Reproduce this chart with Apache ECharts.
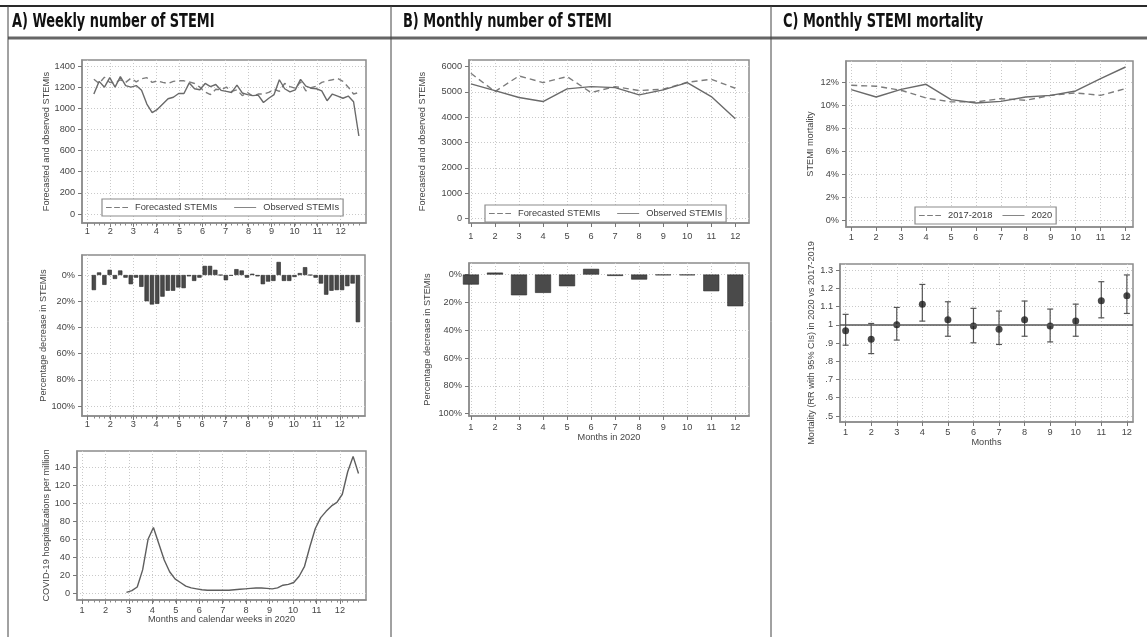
<!DOCTYPE html>
<html>
<head>
<meta charset="utf-8">
<script src="https://cdn.jsdelivr.net/npm/echarts@6/dist/echarts.min.js"></script>
<style>
html, body { margin: 0; padding: 0; background: #fff; }
#main { width: 1147px; height: 637px; }
</style>
</head>
<body>
<div id="main"></div>
<script>
// ---- data ----
var months = [1, 2, 3, 4, 5, 6, 7, 8, 9, 10, 11, 12];

// weekly series, week i sits at month WEEK_START + i * WEEK_STEP
var WEEK_START = 1.285, WEEK_STEP = 0.2301;
var weeklyForecast = [1275, 1235, 1295, 1245, 1240, 1270, 1245, 1285, 1250, 1280,
    1290, 1245, 1260, 1245, 1235, 1255, 1260, 1260, 1250, 1235,
    1200, 1155, 1130, 1180, 1175, 1200, 1160, 1175, 1120, 1150,
    1115, 1135, 1135, 1150, 1180, 1160, 1235, 1205, 1190, 1250,
    1165, 1195, 1210, 1245, 1260, 1270, 1283, 1255, 1200, 1135,
    1150];
var weeklyObserved = [1135, 1255, 1200, 1290, 1200, 1300, 1215, 1200, 1215, 1170,
    1040, 960, 990, 1040, 1090, 1105, 1140, 1140, 1240, 1185,
    1175, 1235, 1205, 1225, 1170, 1160, 1150, 1220, 1145, 1130,
    1120, 1125, 1055, 1095, 1130, 1270, 1185, 1155, 1175, 1274,
    1210, 1190, 1185, 1165, 1072, 1135, 1116, 1095, 1116, 1062,
    738];
var weeklyDecrease = [11.5, -2, 7.5, -4, 3, -3.5, 2, 7, 2, 9,
    20, 22.5, 22, 16.5, 12, 12, 9.5, 10, 1, 4.5,
    2, -7, -7, -4, 0, 4, 0.5, -4.5, -3.5, 2,
    -1, 1, 7, 5, 4.5, -10, 4.5, 4.5, 1.5, -1.5,
    -6, 0, 2, 6.5, 15, 12, 11.5, 11.5, 8.5, 6.5,
    36];
var covidHosp = [null, null, null, null, null, null, null,
    1, 3, 7, 26, 60, 73, 55, 37, 24, 16,
    12, 8, 6, 5, 4, 3.5, 3.5, 3.5, 3.5, 3.5,
    4, 4.5, 5, 5.5, 6, 6, 5.5, 5, 6, 9,
    10, 12, 19, 30, 52, 72, 84, 91, 97, 101,
    110, 135, 152, 133];

var monthlyForecast = [5737, 5015, 5632, 5370, 5606, 4976, 5212, 5055, 5107, 5383, 5501, 5146];
var monthlyObserved = [5317, 5055, 4779, 4621, 5120, 5212, 5173, 4884, 5081, 5370, 4818, 3939];
var monthlyDecrease = [7.2, -1.4, 14.9, 13.2, 8.4, -4.1, 1, 3.6, 0.5, 0.5, 12, 22.8];

var mort1718 = [11.71, 11.63, 11.28, 10.61, 10.27, 10.27, 10.56, 10.41, 10.84, 11.05, 10.84, 11.42];
var mort2020 = [11.34, 10.70, 11.36, 11.80, 10.47, 10.18, 10.32, 10.70, 10.84, 11.22, 12.29, 13.30];

var rrEst  = [0.967, 0.921, 1.000, 1.113, 1.027, 0.993, 0.976, 1.027, 0.993, 1.020, 1.132, 1.159];
var rrLow  = [0.888, 0.842, 0.916, 1.020, 0.937, 0.901, 0.892, 0.937, 0.906, 0.937, 1.038, 1.062];
var rrHigh = [1.057, 1.007, 1.095, 1.221, 1.126, 1.090, 1.075, 1.130, 1.086, 1.113, 1.236, 1.273];

// tick labels
var weeklyTicks = [0, 200, 400, 600, 800, 1000, 1200, 1400];
var pctTicks = [0, 20, 40, 60, 80, 100];
var covidTicks = [0, 20, 40, 60, 80, 100, 120, 140];
var monthlyTicks = [0, 1000, 2000, 3000, 4000, 5000, 6000];
var mortTicks = [0, 2, 4, 6, 8, 10, 12];
var rrTicks = [0.5, 0.6, 0.7, 0.8, 0.9, 1, 1.1, 1.2, 1.3];

// ---- chart ----
var weekX = weeklyObserved.map(function (v, i) { return WEEK_START + i * WEEK_STEP; });
function pairs(xs, ys) { return ys.map(function (v, i) { return [xs[i], v]; }); }

var FONT = '"Liberation Sans", Arial, sans-serif';
var HEAD_FONT = '"DejaVu Sans Condensed", "Liberation Sans Narrow", sans-serif';
var TXT = '#454545';
var FRAME = '#8c8c8c';
var splitStyle = { show: true, lineStyle: { color: '#c9c9c9', width: 1, type: [1, 2] } };
var nameStyle = { color: TXT, fontSize: 9.2, fontFamily: FONT };
var DASH_ICON = 'path://M0,0h7v1h-7z M10,0h7v1h-7z M20,0h7v1h-7z';
var LINE_ICON = 'path://M0,0h27v1h-27z';

function makeGrid(l, t, w, h) {
    return { left: l, top: t, width: w, height: h, show: true, backgroundColor: '#fff',
        borderColor: FRAME, borderWidth: 1.5, containLabel: false, outerBoundsMode: 'none' };
}
function monthAxis(gi, min, max, margin, name, gap) {
    return { type: 'value', gridIndex: gi, min: min, max: max, position: 'bottom',
        axisLine: { show: true, onZero: false, lineStyle: { color: FRAME, width: 1.5 } },
        axisTick: { show: true, length: 4, customValues: months, lineStyle: { color: '#777' } },
        axisLabel: { customValues: months, color: TXT, fontSize: 9.2, fontFamily: FONT, margin: margin },
        splitLine: splitStyle,
        name: name || '', nameLocation: 'middle', nameGap: gap || 0, nameTextStyle: nameStyle };
}
function weekAxis(gi, min, max) {
    return { type: 'value', gridIndex: gi, min: min, max: max, position: 'bottom',
        axisLine: { show: false, onZero: false },
        axisTick: { show: true, length: 2.5, customValues: weekX, lineStyle: { color: '#888' } },
        axisLabel: { show: false }, splitLine: { show: false } };
}
function valAxis(gi, min, max, ticks, fmt, name, gap, inverse) {
    return { type: 'value', gridIndex: gi, min: min, max: max, inverse: !!inverse, position: 'left',
        axisLine: { show: true, onZero: false, lineStyle: { color: FRAME, width: 1.5 } },
        axisTick: { show: true, length: 4, customValues: ticks, lineStyle: { color: '#777' } },
        axisLabel: { customValues: ticks, formatter: fmt, color: TXT, fontSize: 9.2, fontFamily: FONT, margin: 7 },
        splitLine: splitStyle,
        name: name, nameLocation: 'middle', nameGap: gap, nameRotate: 90, nameTextStyle: nameStyle };
}
function plain(v) { return String(v); }
function pct(v) { return v + '%'; }
function rrFmt(v) { return v < 1 ? '.' + Math.round(v * 10) : (v === 1 ? '1' : v.toFixed(1)); }

var dashed = { color: '#7c7c7c', width: 1.4, type: [6, 4] };
var solid = { color: '#6a6a6a', width: 1.4, type: 'solid' };
var barStyle = { color: '#4a4a4a', borderColor: '#262626', borderWidth: 0.6 };

function legendBox(names, left, top, gap) {
    return { data: [{ name: names[0], icon: DASH_ICON }, { name: names[1], icon: LINE_ICON }],
        left: left, top: top, orient: 'horizontal', itemWidth: 22, itemHeight: 1.4, itemGap: gap,
        padding: [4, 4], borderColor: '#8c8c8c', borderWidth: 1.2, backgroundColor: '#fff', selectedMode: false,
        textStyle: { color: '#3c3c3c', fontSize: 9.3, fontFamily: FONT, padding: [0, 0, 0, 2] } };
}
function header(x, text) {
    return { type: 'text', x: x, y: 22, scaleX: 0.72, style: { text: text, fill: '#111', fontSize: 20,
        fontWeight: 'bold', fontFamily: HEAD_FONT, verticalAlign: 'middle' } };
}

var chart = echarts.init(document.getElementById('main'));
chart.setOption({
    animation: false,
    backgroundColor: '#fff',
    grid: [
        makeGrid(82, 60, 284, 163),
        makeGrid(82, 255, 283, 161),
        makeGrid(77, 451, 289, 149),
        makeGrid(469, 60, 280, 163),
        makeGrid(469, 263, 280, 153),
        makeGrid(846, 61, 287, 166),
        makeGrid(840, 264, 293, 158)
    ],
    xAxis: [
        monthAxis(0, 0.77, 13.1, 4),
        weekAxis(0, 0.77, 13.1),
        monthAxis(1, 0.77, 13.1, 4),
        weekAxis(1, 0.77, 13.1),
        monthAxis(2, 0.787, 13.11, 5.5, 'Months and calendar weeks in 2020', 14.5),
        weekAxis(2, 0.787, 13.11),
        monthAxis(3, 0.92, 12.57, 9),
        monthAxis(4, 0.92, 12.57, 6.5, 'Months in 2020', 17),
        monthAxis(5, 0.79, 12.3, 6),
        monthAxis(6, 0.78, 12.24, 6, 'Months', 15.5)
    ],
    yAxis: [
        valAxis(0, -85, 1457, weeklyTicks, plain, 'Forecasted and observed STEMIs', 29),
        valAxis(1, -15.3, 107.6, pctTicks, pct, 'Percentage decrease in STEMIs', 29, true),
        valAxis(2, -7.4, 158, covidTicks, plain, 'COVID-19 hospitalizations per million', 25),
        valAxis(3, -180, 6263, monthlyTicks, plain, 'Forecasted and observed STEMIs', 42),
        valAxis(4, -8.3, 101.7, pctTicks, pct, 'Percentage decrease in STEMIs', 37, true),
        valAxis(5, -0.58, 13.82, mortTicks, pct, 'STEMI mortality', 31),
        valAxis(6, 0.467, 1.333, rrTicks, rrFmt, 'Mortality (RR with 95% CIs) in 2020 vs 2017-2019', 23.5)
    ],
    legend: [
        legendBox(['Forecasted STEMIs', 'Observed STEMIs'], 102, 199, 17),
        legendBox(['Forecasted STEMIs', 'Observed STEMIs'], 485, 205, 17),
        legendBox(['2017-2018', '2020'], 915, 207, 10)
    ],
    series: [
        // A) weekly
        { type: 'line', name: 'Forecasted STEMIs', xAxisIndex: 0, yAxisIndex: 0, data: pairs(weekX, weeklyForecast),
            symbol: 'none', lineStyle: dashed, itemStyle: { color: dashed.color }, z: 3 },
        { type: 'line', name: 'Observed STEMIs', xAxisIndex: 0, yAxisIndex: 0, data: pairs(weekX, weeklyObserved),
            symbol: 'none', lineStyle: solid, itemStyle: { color: solid.color }, z: 3 },
        { type: 'bar', xAxisIndex: 2, yAxisIndex: 1, data: pairs(weekX, weeklyDecrease),
            barWidth: 4.3, itemStyle: barStyle },
        { type: 'line', xAxisIndex: 4, yAxisIndex: 2, data: pairs(weekX, covidHosp), connectNulls: false,
            symbol: 'none', lineStyle: { color: '#5e5e5e', width: 1.4 } },
        // B) monthly
        { type: 'line', name: 'Forecasted STEMIs', xAxisIndex: 6, yAxisIndex: 3, data: pairs(months, monthlyForecast),
            symbol: 'none', lineStyle: dashed, itemStyle: { color: dashed.color }, z: 3 },
        { type: 'line', name: 'Observed STEMIs', xAxisIndex: 6, yAxisIndex: 3, data: pairs(months, monthlyObserved),
            symbol: 'none', lineStyle: solid, itemStyle: { color: solid.color }, z: 3 },
        { type: 'bar', xAxisIndex: 7, yAxisIndex: 4, data: pairs(months, monthlyDecrease),
            barWidth: 16, itemStyle: barStyle },
        // C) mortality
        { type: 'line', name: '2017-2018', xAxisIndex: 8, yAxisIndex: 5, data: pairs(months, mort1718),
            symbol: 'none', lineStyle: dashed, itemStyle: { color: dashed.color }, z: 3 },
        { type: 'line', name: '2020', xAxisIndex: 8, yAxisIndex: 5, data: pairs(months, mort2020),
            symbol: 'none', lineStyle: solid, itemStyle: { color: solid.color }, z: 3 },
        { type: 'custom', xAxisIndex: 9, yAxisIndex: 6, z: 2,
            data: months.map(function (m, i) { return [m, rrLow[i], rrHigh[i]]; }),
            renderItem: function (params, api) {
                var lo = api.coord([api.value(0), api.value(1)]);
                var hi = api.coord([api.value(0), api.value(2)]);
                var st = { stroke: '#555', lineWidth: 1.2 };
                return { type: 'group', children: [
                    { type: 'line', shape: { x1: lo[0], y1: lo[1], x2: hi[0], y2: hi[1] }, style: st },
                    { type: 'line', shape: { x1: lo[0] - 3, y1: lo[1], x2: lo[0] + 3, y2: lo[1] }, style: st },
                    { type: 'line', shape: { x1: hi[0] - 3, y1: hi[1], x2: hi[0] + 3, y2: hi[1] }, style: st }
                ] };
            } },
        { type: 'scatter', xAxisIndex: 9, yAxisIndex: 6, data: pairs(months, rrEst), z: 4,
            symbol: 'circle', symbolSize: 7, itemStyle: { color: '#1c1c1c' },
            markLine: { silent: true, symbol: 'none', label: { show: false },
                lineStyle: { color: '#555', width: 1.5, type: 'solid' }, data: [{ yAxis: 1 }] } }
    ],
    graphic: [
        { type: 'line', shape: { x1: 0, y1: 6, x2: 1147, y2: 6 }, style: { stroke: '#2a2a2a', lineWidth: 2 } },
        { type: 'line', shape: { x1: 8, y1: 38, x2: 1147, y2: 38 }, style: { stroke: '#666', lineWidth: 3 } },
        { type: 'line', shape: { x1: 8, y1: 6, x2: 8, y2: 637 }, style: { stroke: '#444', lineWidth: 1 } },
        { type: 'line', shape: { x1: 391, y1: 6, x2: 391, y2: 637 }, style: { stroke: '#444', lineWidth: 1 } },
        { type: 'line', shape: { x1: 771, y1: 6, x2: 771, y2: 637 }, style: { stroke: '#444', lineWidth: 1 } },
        header(12, 'A) Weekly number of STEMI'),
        header(403, 'B) Monthly number of STEMI'),
        header(783, 'C) Monthly STEMI mortality')
    ]
});
</script>
</body>
</html>
